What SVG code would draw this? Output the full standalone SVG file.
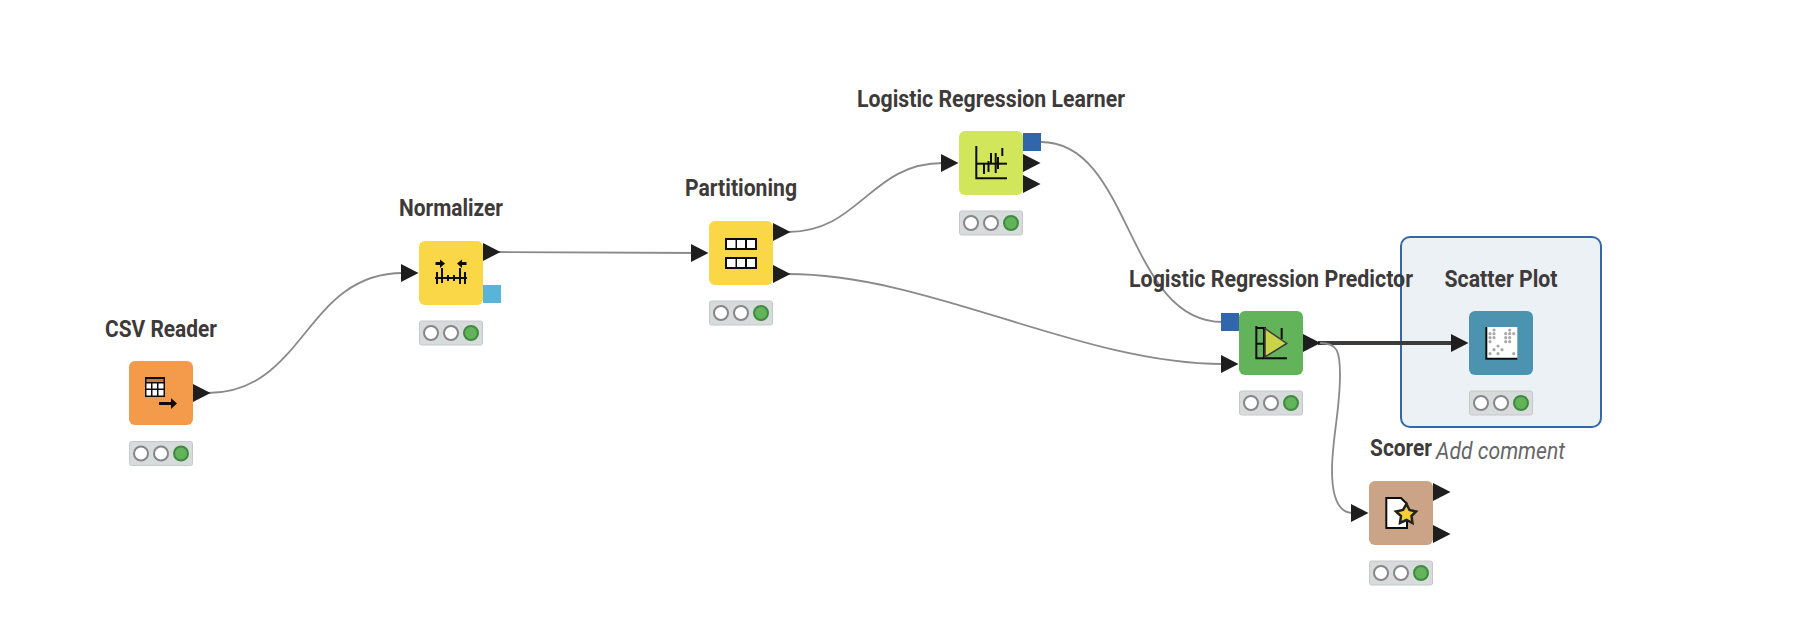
<svg xmlns="http://www.w3.org/2000/svg" xmlns:xlink="http://www.w3.org/1999/xlink" width="1804" height="642" viewBox="0 0 1804 642">
<style>
.bg{fill:#fff}
.box{stroke:none}
.lab{font-family:Roboto,"Liberation Sans",sans-serif;font-weight:700;font-size:23.500px;fill:#3e3a39}
.cmt{font-family:Roboto,"Liberation Sans",sans-serif;font-style:italic;font-size:24px;fill:#666}
.conn{fill:none;stroke:#8a8a8a;stroke-width:1.800}
.thick{fill:none;stroke:#3e3a39;stroke-width:4}
.ink{fill:none;stroke:#111;stroke-width:2}
.fillink{fill:#111;stroke:none}
.icon{filter:url(#soft)}
</style>
<defs>
<filter id="soft" x="-10%" y="-10%" width="120%" height="120%"><feGaussianBlur stdDeviation="0.4"/></filter>
<path id="tri" d="M0,-9 L17.500,0 L0,9 Z" fill="#1e1e1e"/>
<g id="status">
<rect x="0.500" y="0.500" width="63" height="24" rx="2" fill="#d8dbdc" stroke="#c6c9ca"/>
<circle cx="12" cy="12.500" r="7" fill="#fff" stroke="#868686" stroke-width="2"/>
<circle cx="32" cy="12.500" r="7" fill="#fff" stroke="#868686" stroke-width="2"/>
<circle cx="52" cy="12.500" r="7" fill="#62b35a" stroke="#3f8a42" stroke-width="2"/>
</g>
<g id="cell3">
<rect x="0" y="0" width="32" height="12" fill="#111"/>
<rect x="2" y="2" width="8.500" height="8" fill="#fff"/>
<rect x="12" y="2" width="8" height="8" fill="#fff"/>
<rect x="22" y="2" width="8" height="8" fill="#fff"/>
</g>
</defs>
<rect class="bg" x="0" y="0" width="1804" height="642"/>
<g id="annotation">
<rect x="1401" y="237" width="200" height="190" rx="9" fill="#ecf1f6" stroke="#3367a6" stroke-width="2"/>
<text class="cmt" x="1436" y="459" textLength="129" lengthAdjust="spacingAndGlyphs">Add comment</text>
</g>
<g id="connectors">
<path class="conn" d="M208,393 C305,393 305,273 403,273"/>
<path class="conn" d="M498,252 L703,253"/>
<path class="conn" d="M788,232 C860,232 870,163 943,163"/>
<path class="conn" d="M788,274 C930,274 1080,364 1223,364"/>
<path class="conn" d="M1041,142 C1132,142 1126,322 1223,322"/>
<path class="thick" d="M1318,343 L1453,343"/>
<path class="conn" d="M1320,343 C1338,343 1340,352 1340,375 C1340,410 1332,440 1332,470 C1332,500 1340,513 1353,513"/>
</g>
<g id="node-csv-reader" transform="translate(129,361)">
<text class="lab" x="32" y="-24" text-anchor="middle" textLength="112" lengthAdjust="spacingAndGlyphs">CSV Reader</text>
<rect class="box" width="64" height="64" rx="6" fill="#f39a4b"/>
<g class="icon">
<rect x="16" y="16" width="20" height="20" fill="#111"/>
<rect x="17.500" y="18" width="17" height="3" fill="#c97d36"/>
<rect x="17.500" y="22.500" width="4.500" height="5" fill="#fff"/><rect x="23.500" y="22.500" width="4.500" height="5" fill="#fff"/><rect x="29.500" y="22.500" width="5" height="5" fill="#fff"/>
<rect x="17.500" y="29" width="4.500" height="5.500" fill="#fff"/><rect x="23.500" y="29" width="4.500" height="5.500" fill="#fff"/><rect x="29.500" y="29" width="5" height="5.500" fill="#fff"/>
<path class="fillink" d="M30,41 H42 V37 L48,42.500 L42,48 V44 H30 Z"/>
</g>
<use xlink:href="#tri" href="#tri" x="64" y="32"/>
<use xlink:href="#status" href="#status" x="0" y="80"/>
</g>
<g id="node-normalizer" transform="translate(419,241)">
<text class="lab" x="32" y="-25" text-anchor="middle" textLength="104" lengthAdjust="spacingAndGlyphs">Normalizer</text>
<rect class="box" width="64" height="64" rx="6" fill="#fad746"/>
<g class="icon">
<path class="fillink" d="M16.500,21 H21 V18.500 L26,22.500 L21,27 V24 H16.500 Z"/>
<path class="fillink" d="M47.500,21 H43 V18.500 L38,22.500 L43,27 V24 H47.500 Z"/>
<path class="ink" d="M16,37 H48 M18,31 V43 M23,32 V42 M29,34 V40 M35,34 V40 M41,30 V43 M46,31 V43 M23,27 V32 M41,27 V32"/>
</g>
<rect x="64" y="44" width="18" height="18" fill="#58b5d9"/>
<use xlink:href="#tri" href="#tri" x="64" y="11"/>
<use xlink:href="#tri" href="#tri" x="-18" y="32"/>
<use xlink:href="#status" href="#status" x="0" y="79.500"/>
</g>
<g id="node-partitioning" transform="translate(709,221)">
<text class="lab" x="32" y="-25" text-anchor="middle" textLength="112" lengthAdjust="spacingAndGlyphs">Partitioning</text>
<rect class="box" width="64" height="64" rx="6" fill="#fad746"/>
<g class="icon">
<use xlink:href="#cell3" href="#cell3" x="16" y="17"/>
<use xlink:href="#cell3" href="#cell3" x="16" y="36"/>
</g>
<use xlink:href="#tri" href="#tri" x="64" y="11"/>
<use xlink:href="#tri" href="#tri" x="64" y="53"/>
<use xlink:href="#tri" href="#tri" x="-18" y="32"/>
<use xlink:href="#status" href="#status" x="0" y="79.500"/>
</g>
<g id="node-lr-learner" transform="translate(959,131)">
<text class="lab" x="32" y="-24" text-anchor="middle" textLength="268" lengthAdjust="spacingAndGlyphs">Logistic Regression Learner</text>
<rect class="box" width="64" height="64" rx="6" fill="#d1e65a"/>
<g class="icon">
<path class="ink" d="M17.300,15 V47.300 H48"/>
<path class="ink" d="M17,32.700 H48"/>
<path class="ink" stroke-width="3" d="M25,33 V43 M29.500,30 V41 M32,22 V33 M36.700,22 V42 M39,26 V38"/>
<path class="ink" d="M43.300,17 V25"/>
</g>
<rect x="64" y="2" width="18" height="18" fill="#3066ab"/>
<use xlink:href="#tri" href="#tri" x="64" y="32"/>
<use xlink:href="#tri" href="#tri" x="64" y="53"/>
<use xlink:href="#tri" href="#tri" x="-18" y="32"/>
<use xlink:href="#status" href="#status" x="0" y="79.500"/>
</g>
<g id="node-lr-predictor" transform="translate(1239,311)">
<text class="lab" x="32" y="-24" text-anchor="middle" textLength="284" lengthAdjust="spacingAndGlyphs">Logistic Regression Predictor</text>
<rect class="box" width="64" height="64" rx="6" fill="#62b35a"/>
<g class="icon">
<path class="ink" d="M17.300,15 V47.300 H48 M17,17 H27 M17,32.700 H26 M25,17 V47 M42.700,17 V28"/>
<path d="M26,17.500 L47.700,32.500 L26,46 Z" fill="#c9d44c" stroke="#3a3a3a" stroke-width="1.500"/>
</g>
<rect x="-18" y="2" width="18" height="18" fill="#3066ab"/>
<use xlink:href="#tri" href="#tri" x="64" y="32"/>
<use xlink:href="#tri" href="#tri" x="-18" y="53"/>
<use xlink:href="#status" href="#status" x="0" y="79.500"/>
</g>
<g id="node-scatter-plot" transform="translate(1469,311)">
<text class="lab" x="32" y="-24" text-anchor="middle" textLength="113" lengthAdjust="spacingAndGlyphs">Scatter Plot</text>
<rect class="box" width="64" height="64" rx="6" fill="#4c93b0"/>
<g class="icon">
<rect x="17.300" y="16" width="31" height="31.300" fill="#fff"/>
<path class="ink" stroke="#222" d="M17.300,16 V47.800 H48.300"/>
<path fill="none" stroke="#aaa" stroke-width="3.200" stroke-linecap="round" d="M25,19h.01 M21,22.700h.01 M25,22.700h.01 M21,26.700h.01 M25,26.700h.01 M21,30.700h.01 M40.700,19h.01 M36.700,22.700h.01 M40.700,22.700h.01 M44.700,22.700h.01 M36.700,26.700h.01 M40.700,26.700h.01 M36.700,30.700h.01 M40.700,30.700h.01 M29,35h.01 M25,38.700h.01 M33,38.700h.01 M29,42.700h.01 M21,42.700h.01 M44.700,42.700h.01"/>
</g>
<use xlink:href="#tri" href="#tri" x="-18" y="32"/>
<use xlink:href="#status" href="#status" x="0" y="79.500"/>
</g>
<g id="node-scorer" transform="translate(1369,481)">
<text class="lab" x="32" y="-25" text-anchor="middle" textLength="62" lengthAdjust="spacingAndGlyphs">Scorer</text>
<rect class="box" width="64" height="64" rx="6" fill="#cba488"/>
<g class="icon">
<path d="M17.300,17 H32 L38,23 V47 H17.300 Z" fill="#fff" stroke="#111" stroke-width="2"/>
<path d="M37.500,23 L40.500,29 L47,30.500 L42.500,35 L43.500,42 L37.500,39 L31,42 L32,35 L27,30.500 L34,29 Z" fill="#f5cf35" stroke="#222" stroke-width="2.500"/>
</g>
<use xlink:href="#tri" href="#tri" x="64" y="11"/>
<use xlink:href="#tri" href="#tri" x="64" y="53"/>
<use xlink:href="#tri" href="#tri" x="-18" y="32"/>
<use xlink:href="#status" href="#status" x="0" y="79.500"/>
</g>
</svg>
